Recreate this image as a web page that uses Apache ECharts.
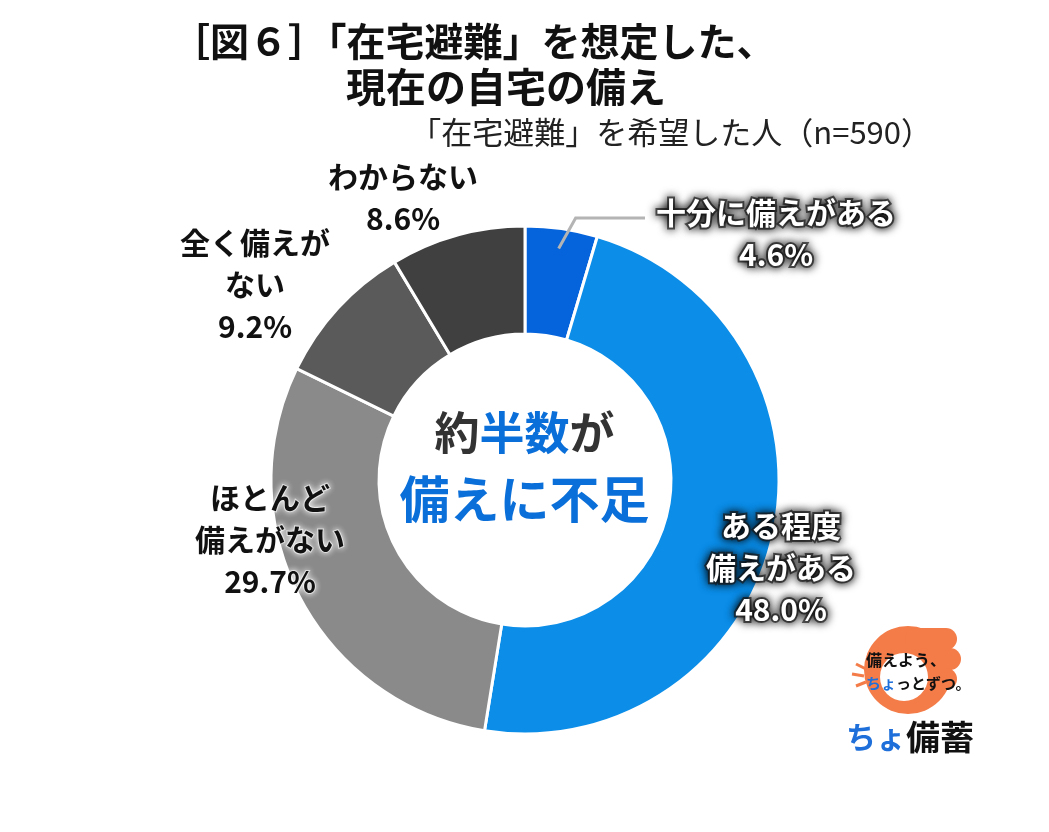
<!DOCTYPE html>
<html><head><meta charset="utf-8">
<script src="https://cdn.jsdelivr.net/npm/echarts@6/dist/echarts.min.js"></script>
<style>html,body{margin:0;padding:0;background:#fff}#c{width:1049px;height:832px}</style>
</head><body><div id="c"></div>
<script>
// ---- data ----
const categories = ['十分に備えがある', 'ある程度\n備えがある', 'ほとんど\n備えがない', '全く備えが\nない', 'わからない'];
const values = [4.6, 48.0, 29.7, 9.2, 8.6];
const titleLine1 = '［図６］「在宅避難」を想定した、';
const titleLine2 = '現在の自宅の備え';
const subtitle = '「在宅避難」を希望した人（n=590）';

// ---- styles / layout ----
const FONT = '"Noto Sans CJK JP", "Noto Sans", sans-serif';
const colors = ['#0563DC', '#0B8DE8', '#8A8A8A', '#5A5A5A', '#404040'];
const labelPos = [[776, 234], [781, 568], [270, 540], [255, 285], [403, 198]];
const labelOnBlue = [true, true, false, false, false];
const CENTER = [525, 480];
const RADII = [146, 254];

const total = values.reduce((a, b) => a + b, 0);

// leader line for the first slice: starts inside the slice at its mid-angle
const leader = (function () {
  const mid = (values[0] / 2) / total * Math.PI * 2;
  const r = RADII[1] - 20;
  const sx = CENTER[0] + r * Math.sin(mid);
  const sy = CENTER[1] - r * Math.cos(mid);
  const ly = labelPos[0][1] - 16;
  return [[sx, sy], [sx + 17, ly], [645, ly]];
})();

const chart = echarts.init(document.getElementById('c'), null, {renderer: 'canvas'});

const data = categories.map((name, i) => {
  const blue = labelOnBlue[i];
  return {
    name: name,
    value: values[i],
    itemStyle: {color: colors[i]},
    label: {
      color: blue ? '#ffffff' : '#111111',
      textShadowColor: blue ? '#000000' : '#ffffff',
      textShadowBlur: blue ? 10 : 6,
      textBorderColor: blue ? 'rgba(30,30,30,0.7)' : 'rgba(255,255,255,0.6)',
      textBorderWidth: blue ? 4 : 2
    }
  };
});

chart.setOption({
  backgroundColor: '#ffffff',
  animation: false,
  title: [
    {text: titleLine1, left: 166, top: 17,
     textStyle: {fontFamily: FONT, fontSize: 39, fontWeight: 'bold', color: '#111'}},
    {text: titleLine2, left: 341, top: 62,
     textStyle: {fontFamily: FONT, fontSize: 40, fontWeight: 'bold', color: '#111'}},
    {text: subtitle, right: 112, top: 112,
     textStyle: {fontFamily: FONT, fontSize: 31, fontWeight: 'normal', color: '#222'}}
  ],
  series: [{
    type: 'pie',
    center: CENTER,
    radius: RADII,
    startAngle: 90,
    clockwise: true,
    avoidLabelOverlap: false,
    itemStyle: {borderColor: '#ffffff', borderWidth: 3},
    label: {
      show: true,
      position: 'outside',
      fontFamily: FONT,
      fontSize: 30,
      fontWeight: 'bold',
      lineHeight: 42,
      align: 'center',
      formatter: p => p.name + '\n' + p.value.toFixed(1) + '%'
    },
    labelLine: {show: false},
    labelLayout: function (params) {
      const pos = labelPos[params.dataIndex];
      return {x: pos[0], y: pos[1], align: 'center', verticalAlign: 'middle'};
    },
    emphasis: {disabled: true},
    data: data
  }],
  graphic: [
    {type: 'polyline', z: 20, shape: {points: leader},
     style: {stroke: '#B4B4B4', lineWidth: 3, fill: null}},
    {
      type: 'text', left: 'center', top: 410, z: 10,
      style: {
        text: '{k|約}{b|半数}{k|が}',
        rich: {
          k: {fontFamily: FONT, fontSize: 45, fontWeight: 'bold', fill: '#333333'},
          b: {fontFamily: FONT, fontSize: 45, fontWeight: 'bold', fill: '#0B6FD9'}
        }
      }
    },
    {
      type: 'text', left: 'center', top: 474, z: 10,
      style: {
        text: '備えに不足',
        font: 'bold 50px ' + FONT,
        fill: '#0B6FD9'
      }
    },
    // logo
    {type: 'circle', shape: {cx: 908, cy: 670, r: 44}, style: {fill: '#F47C48'}, z: 5},
    {type: 'rect', shape: {x: 905, y: 628, width: 52, height: 22, r: 11}, style: {fill: '#F47C48'}, z: 5},
    {type: 'rect', shape: {x: 915, y: 648, width: 46, height: 22, r: 11}, style: {fill: '#F47C48'}, z: 5},
    {type: 'rect', shape: {x: 915, y: 668, width: 42, height: 22, r: 11}, style: {fill: '#F47C48'}, z: 5},
    {type: 'circle', shape: {cx: 904, cy: 677, r: 24}, style: {fill: '#ffffff'}, z: 6},
    {type: 'line', shape: {x1: 852, y1: 674, x2: 864, y2: 676}, style: {stroke: '#F47C48', lineWidth: 3}, z: 6},
    {type: 'line', shape: {x1: 856, y1: 664, x2: 866, y2: 669}, style: {stroke: '#F47C48', lineWidth: 3}, z: 6},
    {type: 'line', shape: {x1: 856, y1: 686, x2: 866, y2: 682}, style: {stroke: '#F47C48', lineWidth: 3}, z: 6},
    {type: 'text', z: 7, style: {x: 866, y: 652, text: '備えよう、', font: 'bold 16px ' + FONT, fill: '#111'}},
    {type: 'text', z: 7, style: {x: 866, y: 676,
      text: '{b|ちょ}{k|っとずつ。}',
      rich: {b: {fontFamily: FONT, fontSize: 15, fontWeight: 'bold', fill: '#1E6FD9'},
             k: {fontFamily: FONT, fontSize: 15, fontWeight: 'bold', fill: '#111'}}}},
    {type: 'text', z: 7, style: {x: 846, y: 720,
      text: '{b|ちょ}{k|備蓄}',
      rich: {b: {fontFamily: FONT, fontSize: 30, fontWeight: 'bold', fill: '#1E6FD9'},
             k: {fontFamily: FONT, fontSize: 34, fontWeight: 'bold', fill: '#111'}}}}
  ]
});
</script>
</body></html>
